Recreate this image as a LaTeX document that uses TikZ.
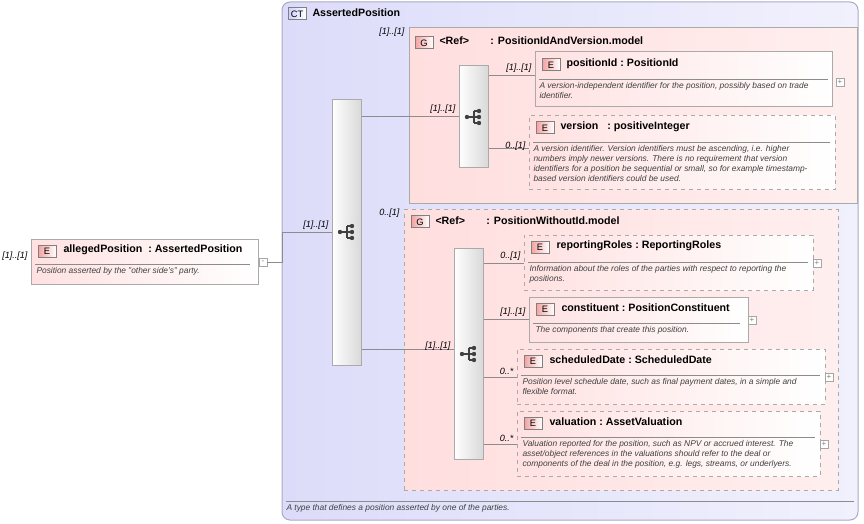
\documentclass[tikz,border=0pt]{standalone}
\usepackage{fontspec}
\setmainfont{Liberation Sans}
\usetikzlibrary{fit}
\tikzset{every picture/.style={line width=0.75pt}}
\definecolor{ctfill}{RGB}{220,220,250}
\definecolor{ctline}{RGB}{170,170,200}
\definecolor{grpfill}{RGB}{255,222,222}
\definecolor{elfill}{RGB}{255,225,225}
\definecolor{bxline}{RGB}{170,170,170}
\definecolor{badge}{RGB}{245,160,160}
\tikzset{
  ct/.style={draw=ctline,rounded corners=6pt,left color=ctfill,right color=ctfill!40!white,inner sep=0pt},
  grp/.style={draw=bxline,left color=grpfill,right color=grpfill!50!white,inner sep=0pt},
  elem/.style={draw=bxline,left color=elfill,right color=white,inner sep=0pt},
  opt/.style={dashed},
  bar/.style={draw=bxline,left color=white,right color=black!15,inner sep=0pt},
  link/.style={draw=black!45,line width=0.5pt},
  mult/.style={font=\fontsize{6.8}{7}\itshape,inner sep=0.75pt,anchor=south east},
  title/.style={font=\fontsize{8}{9}\bfseries\selectfont,anchor=west,inner sep=0.75pt},
  descr/.style={font=\fontsize{6.3}{7.4}\itshape\selectfont,anchor=north west,inner sep=0.75pt,align=left,text=black!75},
  tag/.style={draw=black!50,left color=badge,right color=white,minimum width=13.5pt,minimum height=9pt,inner sep=0pt,font=\fontsize{7}{7}\selectfont},
  plus/.style={draw=black!35,fill=white,minimum size=6pt,inner sep=0pt,line width=0.4pt,font=\fontsize{6}{6}\selectfont,text=black!50}
}
% sequence symbol
\newcommand{\seqsym}[1]{%
  \begin{scope}[shift={#1},line width=0.9pt,black!75]
    \fill (-7,0) circle (2.2);
    \draw (-7,0) -- (0,0) (0,-6) -- (0,6) (0,-6) -- (5,-6) (0,0) -- (5,0) (0,6) -- (5,6);
    \fill (5,-6) circle (2.2) (5,0) circle (2.2) (5,6) circle (2.2);
  \end{scope}}

\begin{document}
\begin{tikzpicture}[x=0.75pt,y=0.75pt,yscale=-1,xscale=1]
\useasboundingbox (0,0) rectangle (864,524);

%Complex type
\node[ct,fit={(282,2)(858,520)}] (ct) {};
\node[tag,draw=black!50,left color=ctfill!60!blue!40,right color=white] (cttag) at (297,14) {CT};
\node[title] at (311,13) {AssertedPosition};
\draw[link] (286,501) -- (854,501);
\node[descr] at (285,503) {A type that defines a position asserted by one of the parties.};

%Element alleged
\node[elem,fit={(31,239)(258,284)}] (alleged) {};
\node[tag] at (47,251) {E};
\node[title] at (62,250) {allegedPosition\ \ :\ AssertedPosition};
\draw[link] (35,264) -- (250,264);
\node[descr] at (35,266) {Position asserted by the "other side's" party.};
\node[mult] at (29,262) {[1]..[1]};
\node[plus] (amin) at (263,262) {-};

%Sequence 1
\node[bar,fit={(332,100)(361,365)}] (bar1) {};
\seqsym{(347,232)}
\draw[link] (amin.east) -- (282,262) -- (282,232) -- (bar1.west |- 0,232);
\node[mult] at (330,231) {[1]..[1]};

%Group 1
\node[grp,fit={(409,28)(857,204)}] (grp1) {};
\node[mult] at (406,38) {[1]..[1]};
\node[tag] at (424,43) {G};
\node[title] at (438,41) {<Ref>\qquad : PositionIdAndVersion.model};
\node[bar,fit={(459,66)(488,168)}] (bar2) {};
\seqsym{(474,117)}
\draw[link] (bar1.east |- 0,116) -- (bar2.west |- 0,116);
\node[mult] at (457,115) {[1]..[1]};

%positionId
\node[elem,fit={(535,52)(832,107)}] (posid) {};
\node[tag] at (551,65) {E};
\node[title] at (565,64) {positionId\ :\ PositionId};
\draw[link] (539,79) -- (828,79);
\node[descr] at (538,81) {A version-independent identifier for the position, possibly based on trade\\identifier.};
\node[plus] at (840,82) {+};
\draw[link] (bar2.east |- 0,75) -- (posid.west |- 0,75);
\node[mult] at (533,74) {[1]..[1]};

%version
\node[elem,opt,fit={(529,116)(835,190)}] (version) {};
\node[tag] at (545,128) {E};
\node[title] at (559,127) {version\ \ \ :\ positiveInteger};
\draw[link] (533,142) -- (830,142);
\node[descr] at (532,144) {A version identifier. Version identifiers must be ascending, i.e. higher\\numbers imply newer versions.  There is no requirement that version\\identifiers for a position be sequential or small, so for example timestamp-\\based version identifiers could be used.};
\draw[link] (bar2.east |- 0,148) -- (version.west |- 0,148);
\node[mult] at (527,152) {0..[1]};

%Group 2
\node[grp,opt,fit={(404,210)(838,490)}] (grp2) {};
\node[mult] at (401,219) {0..[1]};
\node[tag] at (420,222) {G};
\node[title] at (434,221) {<Ref>\qquad : PositionWithoutId.model};
\node[bar,fit={(454,248)(483,459)}] (bar3) {};
\seqsym{(469,354)}
\draw[link] (bar1.east |- 0,349) -- (bar3.west |- 0,349);
\node[mult] at (452,352) {[1]..[1]};

%reportingRoles
\node[elem,opt,fit={(524,235)(813,290)}] (roles) {};
\node[tag] at (540,247) {E};
\node[title] at (555,246) {reportingRoles\ :\ ReportingRoles};
\draw[link] (528,262) -- (808,262);
\node[descr] at (528,264) {Information about the roles of the parties with respect to reporting the\\positions.};
\node[plus] at (817,263) {+};
\draw[link] (bar3.east |- 0,263) -- (roles.west |- 0,263);
\node[mult] at (522,262) {0..[1]};

%constituent
\node[elem,fit={(529,297)(748,342)}] (constit) {};
\node[tag] at (545,309) {E};
\node[title] at (560,308) {constituent\ :\ PositionConstituent};
\draw[link] (533,323) -- (740,323);
\node[descr] at (534,325) {The components that create this position.};
\node[plus] at (752,320) {+};
\draw[link] (bar3.east |- 0,319) -- (constit.west |- 0,319);
\node[mult] at (527,318) {[1]..[1]};

%scheduledDate
\node[elem,opt,fit={(517,349)(825,404)}] (sched) {};
\node[tag] at (533,361) {E};
\node[title] at (548,360) {scheduledDate\ :\ ScheduledDate};
\draw[link] (521,375) -- (820,375);
\node[descr] at (521,377) {Position level schedule date, such as final payment dates, in a simple and\\flexible format.};
\node[plus] at (829,377) {+};
\draw[link] (bar3.east |- 0,377) -- (sched.west |- 0,377);
\node[mult] at (515,376) {0..*};

%valuation
\node[elem,opt,fit={(517,411)(820,476)}] (valu) {};
\node[tag] at (533,423) {E};
\node[title] at (548,422) {valuation\ :\ AssetValuation};
\draw[link] (521,437) -- (815,437);
\node[descr] at (521,439) {Valuation reported for the position, such as NPV or accrued interest. The\\asset/object references in the valuations should refer to the deal or\\components of the deal in the position, e.g. legs, streams, or underlyers.};
\node[plus] at (824,444) {+};
\draw[link] (bar3.east |- 0,444) -- (valu.west |- 0,444);
\node[mult] at (515,443) {0..*};
\end{tikzpicture}
\end{document}
